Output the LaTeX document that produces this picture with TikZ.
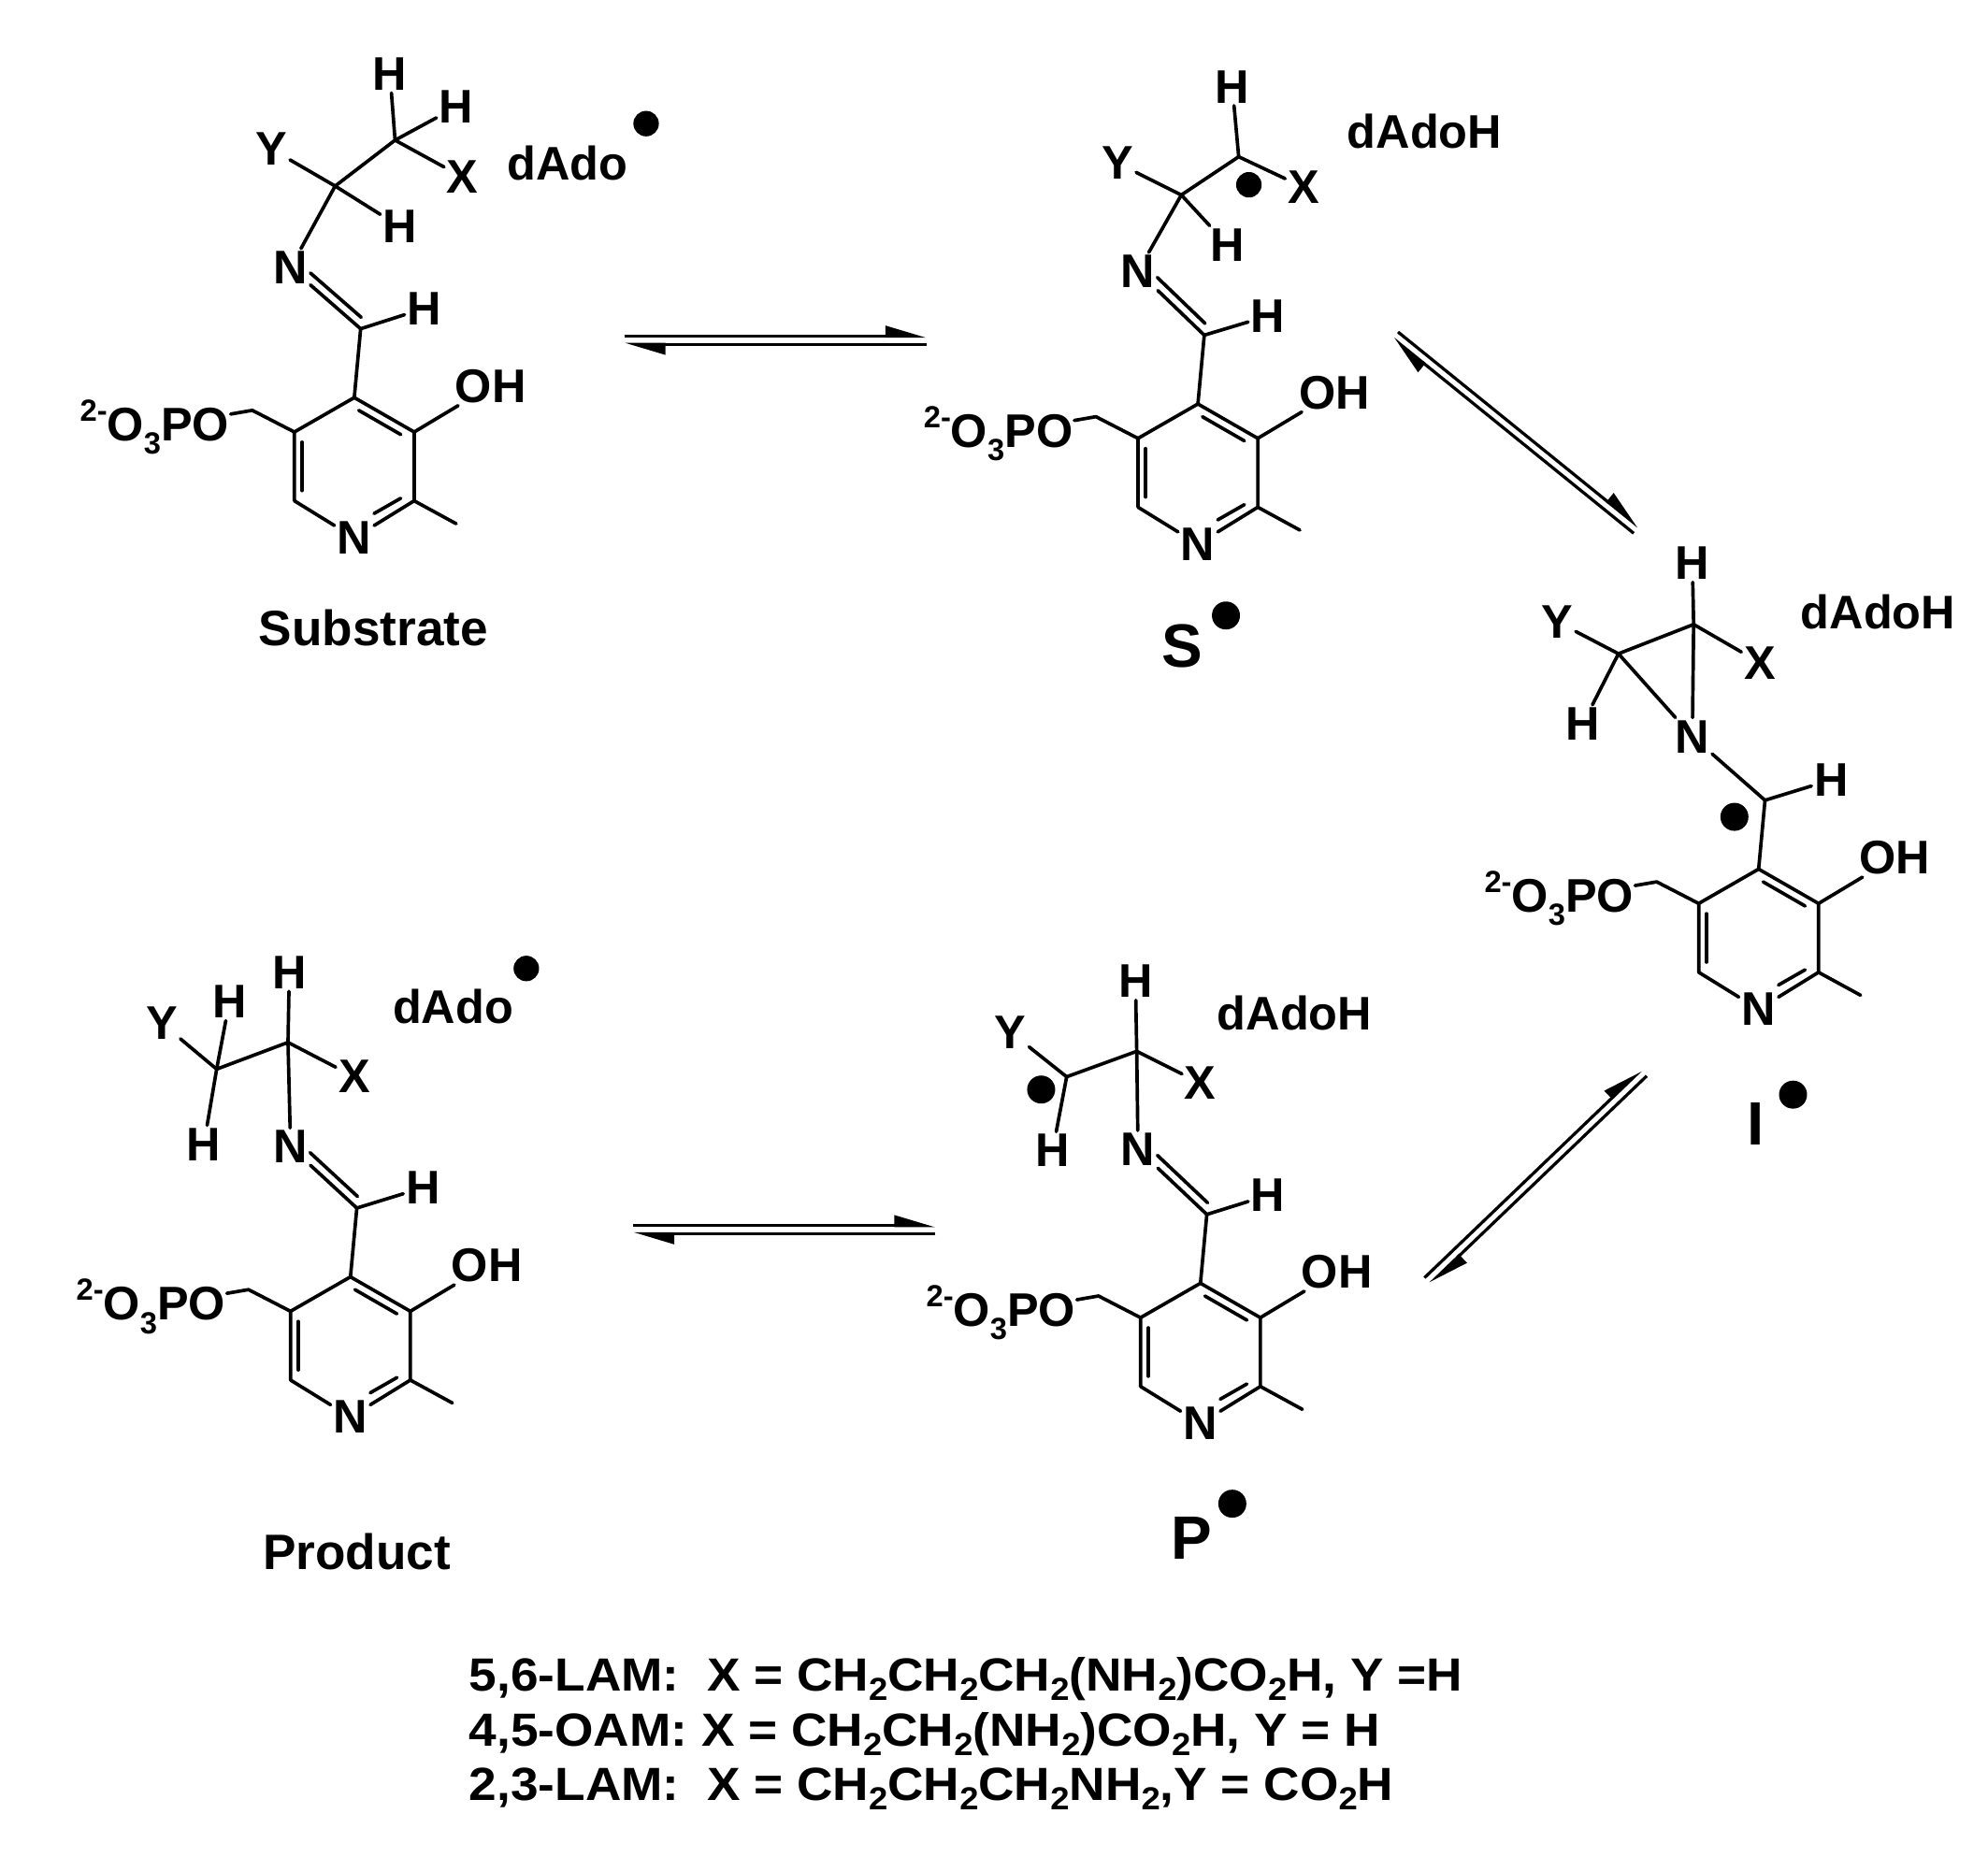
\documentclass[tikz,border=0pt]{standalone}
\usepackage{fontspec}
\setmainfont{Liberation Sans}
\newfontfamily\footfont{Liberation Sans}[FakeStretch=1.07]
\usetikzlibrary{calc,arrows.meta}
\newcommand\sups[1]{\raisebox{.42em}{\fontsize{24}{24}\selectfont #1}}
\newcommand\subs[1]{\raisebox{-.28em}{\fontsize{24}{24}\selectfont #1}}
\newcommand\bsub[1]{\raisebox{-.2em}{\fontsize{25}{25}\selectfont #1}}
\tikzset{
  bond/.style={line width=2.7pt,line cap=round,line join=round},
  atom/.style={font=\fontsize{37}{37}\selectfont\bfseries,inner sep=2pt},
  lbl/.style={font=\fontsize{39}{39}\selectfont\bfseries,inner sep=0pt},
  big/.style={font=\fontsize{48}{48}\selectfont\bfseries,inner sep=0pt},
  foot/.style={font=\footfont\fontsize{36.5}{36.5}\selectfont\bfseries,inner sep=0pt,anchor=base west},
  rad/.style={fill=black,draw=none},
  eq/.style={line width=2.4pt,-{Triangle[left,length=28pt,width=16pt]}},
}
\newcommand\plp[2]{%
\begin{scope}[shift={#2}]
\coordinate (#1c4) at (0,0);
\coordinate (#1c3) at (47,27);
\coordinate (#1c2) at (47,81);
\coordinate (#1c6) at (-47,81);
\coordinate (#1c5) at (-47,27);
\coordinate (#1ch2) at (-80,10);
\coordinate (#1me) at (80,99);
\coordinate (#1ch) at (5,-54);
\node[atom] (#1nr) at (0,110) {N};
\node[atom,anchor=base east,inner sep=1pt] (#1po) at (-97,34) {\sups{2-}O\subs{3}PO};
\node[atom] (#1oh) at (107,-9) {OH};
\draw[bond] (3.5,10) -- (36.5,29);
\draw[bond] (-41,35) -- (-41,73);
\draw[bond] (36.5,79) -- (15.5,91);
\end{scope}
\draw[bond] (#1c6)--(#1c5)--(#1c4)--(#1c3)--(#1c2)--(#1nr);
\draw[bond] (#1nr)--(#1c6);
\draw[bond] (#1c5)--(#1ch2)--(#1po);
\draw[bond] (#1c3)--(#1oh);
\draw[bond] (#1c2)--(#1me);
\draw[bond] (#1c4)--(#1ch);
}
\newcommand\eqarrow[2]{%
\draw[eq] ($(#1)!3.2pt!90:(#2)$) -- ($(#2)!3.2pt!-90:(#1)$);
\draw[eq] ($(#2)!3.2pt!90:(#1)$) -- ($(#1)!3.2pt!-90:(#2)$);
}
\begin{document}
\begin{tikzpicture}[x=1pt,y=-1pt]
\useasboundingbox (0,0) rectangle (1560,1457);

% ---------- Substrate ----------
\plp{s}{(278,312)}
\node[atom] (sH1) at (333,242) {H};
\node[atom] (sN) at (228,210) {N};
\coordinate (sCa) at (263,146);
\coordinate (sCb) at (310,110);
\node[atom] (sY) at (213,117) {Y};
\node[atom] (sHl) at (314,178) {H};
\node[atom] (sHt) at (306,58) {H};
\node[atom] (sHr) at (358,84) {H};
\node[atom] (sX) at (363,139) {X};
\draw[bond] (sch)--(sH1);
\draw[bond] (sch)--(sN);
\draw[bond,shorten <=6pt,shorten >=14pt] ($(sch)+(5,-5)$)--($(sN)+(5,-5)$);
\draw[bond] (sN)--(sCa)--(sY);
\draw[bond] (sCa)--(sHl);
\draw[bond] (sCa)--(sCb)--(sHt);
\draw[bond] (sCb)--(sHr);
\draw[bond] (sCb)--(sX);
\node[atom,anchor=west] (sdado) at (396,128) {dAdo};
\fill[rad] (507,97) circle (10);
\node[lbl] (slab) at (293,493) {Substrate};

% ---------- S radical ----------
\plp{r}{(940,317)}
\node[atom] (rH1) at (995,248) {H};
\node[atom] (rN) at (893,213) {N};
\coordinate (rCa) at (927,153);
\coordinate (rCb) at (972,123);
\node[atom] (rY) at (877,128) {Y};
\node[atom] (rHl) at (963,192) {H};
\node[atom] (rHt) at (967,68) {H};
\node[atom] (rX) at (1023,147) {X};
\draw[bond] (rch)--(rH1);
\draw[bond] (rch)--(rN);
\draw[bond,shorten <=6pt,shorten >=14pt] ($(rch)+(5,-5)$)--($(rN)+(5,-5)$);
\draw[bond] (rN)--(rCa)--(rY);
\draw[bond] (rCa)--(rHl);
\draw[bond] (rCa)--(rCb)--(rHt);
\draw[bond] (rCb)--(rX);
\fill[rad] (980,145) circle (10);
\node[atom,anchor=west] (rdado) at (1055,103) {dAdoH};
\node[big] (rlab) at (928,507) {S};
\fill[rad] (962,483) circle (11);

% ---------- I radical ----------
\plp{i}{(1380,682)}
\node[atom] (iH1) at (1437,612) {H};
\node[atom] (iN) at (1328,578) {N};
\coordinate (iCa) at (1270,513);
\coordinate (iCb) at (1329,490);
\node[atom] (iY) at (1222,488) {Y};
\node[atom] (iHl) at (1242,568) {H};
\node[atom] (iHt) at (1328,442) {H};
\node[atom] (iX) at (1381,520) {X};
\draw[bond] (ich)--(iH1);
\draw[bond] (ich)--(iN);
\draw[bond] (iN)--(iCa);
\draw[bond] (iN)--(iCb);
\draw[bond] (iCa)--(iCb)--(iHt);
\draw[bond] (iCb)--(iX);
\draw[bond] (iCa)--(iY);
\draw[bond] (iCa)--(iHl);
\fill[rad] (1361,641) circle (11);
\node[atom,anchor=west] (idado) at (1411,480) {dAdoH};
\node[big] (ilab) at (1378,882) {I};
\fill[rad] (1407,859) circle (11);

% ---------- P radical ----------
\plp{p}{(942,1007)}
\node[atom] (pH1) at (995,938) {H};
\node[atom] (pN) at (893,902) {N};
\coordinate (pCa) at (837,845);
\coordinate (pCb) at (892,825);
\node[atom] (pY) at (793,810) {Y};
\node[atom] (pHl) at (826,903) {H};
\node[atom] (pHt) at (891,770) {H};
\node[atom] (pX) at (942,850) {X};
\draw[bond] (pch)--(pH1);
\draw[bond] (pch)--(pN);
\draw[bond,shorten <=6pt,shorten >=14pt] ($(pch)+(5,-5)$)--($(pN)+(5,-5)$);
\draw[bond] (pN)--(pCb)--(pHt);
\draw[bond] (pCb)--(pX);
\draw[bond] (pCb)--(pCa)--(pY);
\draw[bond] (pCa)--(pHl);
\fill[rad] (817,855) circle (11);
\node[atom,anchor=west] (pdado) at (953,795) {dAdoH};
\node[big] (plab) at (935,1207) {P};
\fill[rad] (967,1180) circle (11);

% ---------- Product ----------
\plp{q}{(275,1002)}
\node[atom] (qH1) at (332,932) {H};
\node[atom] (qN) at (228,900) {N};
\coordinate (qCa) at (226,818);
\coordinate (qCb) at (170,839);
\node[atom] (qY) at (127,803) {Y};
\node[atom] (qHu) at (180,786) {H};
\node[atom] (qHd) at (160,898) {H};
\node[atom] (qHt) at (227,763) {H};
\node[atom] (qX) at (278,845) {X};
\draw[bond] (qch)--(qH1);
\draw[bond] (qch)--(qN);
\draw[bond,shorten <=6pt,shorten >=14pt] ($(qch)+(5,-5)$)--($(qN)+(5,-5)$);
\draw[bond] (qN)--(qCa)--(qHt);
\draw[bond] (qCa)--(qX);
\draw[bond] (qCa)--(qCb)--(qY);
\draw[bond] (qCb)--(qHu);
\draw[bond] (qCb)--(qHd);
\node[atom,anchor=west] (qdado) at (306,790) {dAdo};
\fill[rad] (413,760) circle (10);
\node[lbl] (qlab) at (280,1218) {Product};

% ---------- equilibrium arrows ----------
\coordinate (a1) at (490,267);
\coordinate (a2) at (727,267);
\coordinate (b1) at (497,965);
\coordinate (b2) at (734,965);
\coordinate (c1) at (1095,263);
\coordinate (c2) at (1284,416);
\coordinate (d1) at (1120,1005);
\coordinate (d2) at (1290,842);
\eqarrow{a1}{a2}
\eqarrow{b1}{b2}
\eqarrow{c1}{c2}
\eqarrow{d1}{d2}

% ---------- footnote ----------
\node[foot] (f1) at (368,1327) {5,6-LAM:\ \ X = CH\bsub{2}CH\bsub{2}CH\bsub{2}(NH\bsub{2})CO\bsub{2}H, Y =H};
\node[foot] (f2) at (368,1370) {4,5-OAM: X = CH\bsub{2}CH\bsub{2}(NH\bsub{2})CO\bsub{2}H, Y = H};
\node[foot] (f3) at (368,1413) {2,3-LAM:\ \ X = CH\bsub{2}CH\bsub{2}CH\bsub{2}NH\bsub{2},Y = CO\bsub{2}H};
\end{tikzpicture}
\end{document}
